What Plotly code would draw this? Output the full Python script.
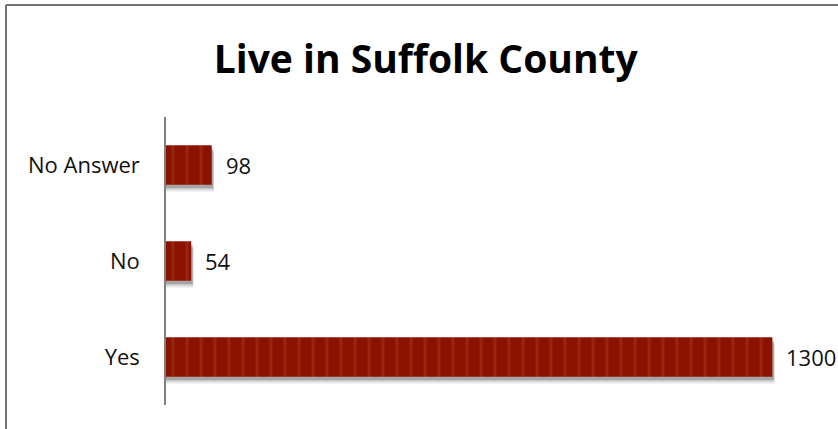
import plotly.graph_objects as go

# Survey responses: "Live in Suffolk County"
categories = ["Yes", "No", "No Answer"]
counts = [1300, 54, 98]
title_text = "Live in Suffolk County"

bar_color = "#8B1200"
stripe_color = "#A33A18"

x_max = 1400
bar_width = 0.41

fig = go.Figure()

# soft drop shadow behind each bar, built from a few faint offset layers
shadow_layers = [(5, 0.07, 0.12), (4, 0.05, 0.18), (3, 0.035, 0.25)]
for dx, dy, alpha in shadow_layers:
    fig.add_trace(go.Bar(
        y=categories,
        x=[v + dx for v in counts],
        orientation="h",
        width=bar_width,
        offset=-bar_width / 2 - dy,
        marker=dict(color=f"rgba(60,60,60,{alpha})", line=dict(width=0)),
        hoverinfo="skip",
        showlegend=False,
    ))

# striped bars
fig.add_trace(go.Bar(
    y=categories,
    x=counts,
    orientation="h",
    width=bar_width,
    offset=-bar_width / 2,
    marker=dict(
        color=bar_color,
        line=dict(width=0),
        pattern=dict(shape="|", bgcolor=bar_color, fgcolor=stripe_color,
                     size=14, solidity=0.22, fillmode="overlay"),
    ),
    showlegend=False,
))

# value labels to the right of each bar
for cat, v in zip(categories, counts):
    fig.add_annotation(
        x=v, y=cat, xref="x", yref="y",
        text=str(v), showarrow=False,
        xanchor="left", yanchor="middle", xshift=12,
        font=dict(family="Open Sans", size=22, color="#111111"),
    )

fig.update_layout(
    width=838,
    height=429,
    margin=dict(l=166, r=19, t=117, b=24),
    paper_bgcolor="white",
    plot_bgcolor="white",
    barmode="overlay",
    title=dict(
        text=title_text,
        x=0.508, xanchor="center",
        y=0.862, yanchor="middle",
        font=dict(family="Open Sans", size=39, color="#000000", weight="bold"),
    ),
    xaxis=dict(range=[0, x_max], visible=False, fixedrange=True),
    yaxis=dict(
        showline=True, linecolor="#7f7f7f", linewidth=1.5,
        showgrid=False, zeroline=False,
        ticks="", ticklabelstandoff=20,
        tickfont=dict(family="Open Sans", size=22, color="#111111"),
        fixedrange=True,
    ),
)

# outer chart border (left and top edges visible)
left_edge = -160 / 653
top_edge = (117 - 5) / 288 + 1
fig.add_shape(type="line", xref="x domain", yref="y domain",
              x0=left_edge, x1=left_edge, y0=-1.0, y1=top_edge,
              line=dict(color="#737373", width=2))
fig.add_shape(type="line", xref="x domain", yref="y domain",
              x0=left_edge, x1=(838 - 166) / 653, y0=top_edge, y1=top_edge,
              line=dict(color="#737373", width=2))

fig.write_html("out.html")
